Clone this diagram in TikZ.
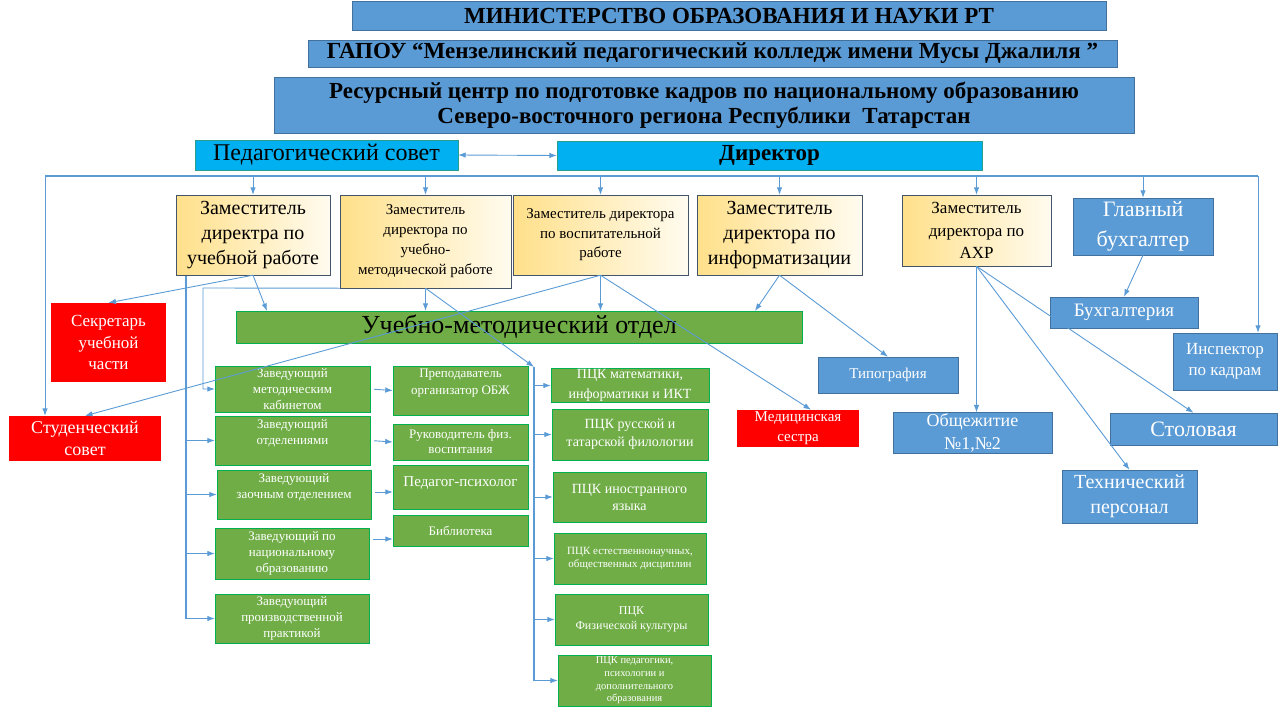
\documentclass[tikz,border=0pt]{standalone}
\usepackage{fontspec}
\setmainfont{Liberation Serif}
\usetikzlibrary{arrows.meta}
\newcommand{\fsz}[2]{\fontsize{#1}{#2}\selectfont}
\definecolor{hdrblue}{HTML}{5B9BD5}
\definecolor{hdrline}{HTML}{41719C}
\definecolor{sovcyan}{HTML}{00B0F0}
\definecolor{sovline}{HTML}{2A9D8F}
\definecolor{grnfill}{HTML}{70AD47}
\definecolor{grnline}{HTML}{00B050}
\definecolor{zamyel}{HTML}{FFE08A}
\definecolor{zamlight}{HTML}{FFFBEF}
\definecolor{zamline}{HTML}{44546A}
\definecolor{linkblue}{HTML}{5B9BD5}
\tikzset{
  box/.style={inner sep=1pt, align=center},
  hdr/.style={box, draw=hdrline, fill=hdrblue},
  sov/.style={box, draw=sovline, fill=sovcyan},
  zam/.style={box, draw=zamline, left color=zamyel, right color=zamlight},
  blu/.style={box, draw=hdrline, fill=hdrblue, text=white},
  grn/.style={box, draw=grnline, fill=grnfill, text=white},
  redbox/.style={box, fill=red, text=white},
  lift/.style={text depth=#1},
  link/.style={draw=linkblue, line width=0.9pt, ->},
  trunk/.style={draw=linkblue, line width=1.3pt},
  >={Latex[length=7.5pt,width=5.5pt]}
}
\begin{document}
\begin{tikzpicture}[x=1pt,y=-1pt]
\useasboundingbox (0,0) rectangle (1280,720);
% header
\node[hdr, minimum width=754, minimum height=29, font=\bfseries\fsz{23}{26}] (min) at (729,15.5) {МИНИСТЕРСТВО ОБРАЗОВАНИЯ И НАУКИ РТ};
\node[hdr, minimum width=809, minimum height=27, font=\bfseries\fsz{23}{26}] (gapou) at (712.5,53.5) {ГАПОУ “Мензелинский педагогический колледж имени Мусы Джалиля ”};
\node[hdr, minimum width=860, minimum height=56, font=\bfseries\fsz{23}{25}] (rc) at (704,105) {Ресурсный центр по подготовке кадров по национальному образованию\\ Северо-восточного региона Республики\ \ Татарстан};
\node[sov, minimum width=263, minimum height=30, font=\fsz{24}{26}] (ps) at (326.5,155) {Педагогический совет};
\node[sov, minimum width=425, minimum height=29, font=\bfseries\fsz{23}{26}] (dir) at (769.5,155.5) {Директор};
% deputies
\node[zam, minimum width=154, minimum height=80, font=\fsz{20}{25}] (zu) at (253,235) {Заместитель\\ директра по\\ учебной работе};
\node[zam, minimum width=171, minimum height=93, font=\fsz{15}{20}] (zumr) at (425.5,241.5) {Заместитель\\ директора по\\ учебно-\\ методической работе};
\node[zam, minimum width=175, minimum height=80, font=\fsz{15}{19.5}] (zv) at (600.5,235) {Заместитель директора\\ по воспитательной\\ работе};
\node[zam, minimum width=165, minimum height=80, font=\fsz{20}{25}] (zi) at (779.5,235) {Заместитель\\ директора по\\ информатизации};
\node[zam, minimum width=149, minimum height=71, font=\fsz{17}{22.5}] (zahr) at (976.5,230.5) {Заместитель\\ директора по\\ АХР};
\node[blu, minimum width=140, minimum height=57, font=\fsz{22}{30}] (gb) at (1143,226.5) {Главный\\ бухгалтер};
\node[blu, minimum width=148, minimum height=31, font=\fsz{19}{22}] (buh) at (1124,312.5) {Бухгалтерия};
\node[blu, minimum width=104, minimum height=57, font=\fsz{17}{21}] (insp) at (1225,361.5) {Инспектор\\ по кадрам};
% middle band
\node[redbox, minimum width=115, minimum height=79, font=\fsz{17}{21.5}] (sek) at (108.5,342.5) {Секретарь\\ учебной\\ части};
\node[box, draw=grnline, fill=grnfill, minimum width=566, minimum height=32, font=\fsz{26}{28}] (umo) at (519,327) {Учебно-методический отдел};
\node[redbox, minimum width=152, minimum height=45, font=\fsz{18}{22}] (stsov) at (85,438.5) {Студенческий\\ совет};
\node[blu, minimum width=140, minimum height=36, font=\fsz{15}{18}] (typ) at (888,375) {Типография};
\node[redbox, minimum width=122, minimum height=37, font=\fsz{15}{20}] (ms) at (798,428.5) {Медицинская\\ сестра};
\node[blu, minimum width=159, minimum height=40, font=\fsz{18}{23}] (obsh) at (972.5,433) {Общежитие\\ №1,№2};
\node[blu, minimum width=167, minimum height=32, font=\fsz{22}{24}] (stol) at (1193.5,429) {Столовая};
\node[blu, minimum width=135, minimum height=53, font=\fsz{20}{25}] (tech) at (1129.5,496.5) {Технический\\ персонал};
% heads of units
\node[grn, minimum width=155, minimum height=46, font=\fsz{13}{16}] (zmk) at (292.5,389) {Заведующий\\ методическим\\ кабинетом};
\node[grn, minimum width=155, minimum height=49, font=\fsz{13}{16}, lift=17pt] (zot) at (292.5,440.5) {Заведующий\\ отделениями};
\node[grn, minimum width=154, minimum height=49, font=\fsz{13}{16}, lift=17pt] (zzo) at (294,494.5) {Заведующий\\ заочным отделением};
\node[grn, minimum width=154, minimum height=51, font=\fsz{13}{16}] (znac) at (292,553.5) {Заведующий по\\ национальному\\ образованию};
\node[grn, minimum width=154, minimum height=49, font=\fsz{13}{16}] (zpr) at (292,618.5) {Заведующий\\ производственной\\ практикой};
\node[grn, minimum width=135, minimum height=49, font=\fsz{13}{17}, lift=17pt] (obzh) at (460.5,390.5) {Преподаватель\\ организатор ОБЖ};
\node[grn, minimum width=135, minimum height=36, font=\fsz{13}{15}] (fiz) at (460.5,442) {Руководитель физ.\\ воспитания};
\node[grn, minimum width=135, minimum height=44, font=\fsz{15}{17}, lift=10pt] (psy) at (460.5,487) {Педагог-психолог};
\node[grn, minimum width=135, minimum height=31, font=\fsz{13}{15}] (bib) at (460.5,530.5) {Библиотека};
% subject commissions
\node[grn, minimum width=158, minimum height=33, font=\fsz{14}{20}] (p1) at (630,385.5) {ПЦК математики,\\ информатики и ИКТ};
\node[grn, minimum width=156, minimum height=51, font=\fsz{14}{18}] (p2) at (630,434.5) {ПЦК русской и\\ татарской филологии};
\node[grn, minimum width=153, minimum height=50, font=\fsz{14}{17}] (p3) at (629.5,497) {ПЦК иностранного\\ языка};
\node[grn, minimum width=152, minimum height=51, font=\fsz{11}{13}] (p4) at (630,558.5) {ПЦК естественнонаучных,\\ общественных дисциплин};
\node[grn, minimum width=153, minimum height=51, font=\fsz{12}{15}] (p5) at (631.5,619.5) {ПЦК\\ Физической культуры};
\node[grn, minimum width=153, minimum height=51, font=\fsz{10.5}{12.7}] (p6) at (634.5,680.5) {ПЦК педагогики,\\ психологии и\\ дополнительного\\ образования};
% connectors
\coordinate (busL) at (45,176);
\coordinate (busR) at (1258,176);
\coordinate (umoA) at (267,311);
\coordinate (umoB) at (755,311);
\coordinate (lbTop) at (186,276);
\coordinate (umrL) at (203,288);
\coordinate (rbTop) at (534,367);
\draw[link, <->] (ps.east) -- (dir.west);
\draw[trunk] (busL) -- (busR);
\foreach \z in {zu,zumr,zv,zi,zahr,gb}
  \draw[link] (\z.north |- busL) -- (\z.north);
\draw[link] (busL) -- (busL |- stsov.north);
\draw[link] (busR) -- (busR |- insp.north);
\draw[link] (zu.south) -- (sek.north);
\draw[link] (zu.south) -- (umoA);
\draw[trunk] (lbTop) -- (lbTop |- zpr.west);
\foreach \z in {zot,zzo,znac,zpr}
  \draw[link] (lbTop |- \z.west) -- (\z.west);
\draw[link] (zumr.south west) -- (umrL) |- (zmk.west);
\draw[link] (zumr.south) -- (zumr.south |- umo.north);
\draw[link] (zumr.south) -- (rbTop);
\draw[trunk] (rbTop) -- (rbTop |- p6.west);
\foreach \p in {p1,p2,p3,p4,p5,p6}
  \draw[link] (rbTop |- \p.west) -- (\p.west);
\draw[link] (zv.south) -- (zv.south |- umo.north);
\draw[link] (zv.south) -- (stsov.north);
\draw[link] (zv.south) -- ([xshift=13pt]ms.north);
\draw[link] (zi.south) -- (umoB);
\draw[link] (zi.south) -- (typ.north);
\draw[link] (zahr.south) -- (zahr.south |- obsh.north);
\draw[link] (zahr.south) -- (tech.north);
\draw[link] (zahr.south) -- (stol.north);
\draw[link] (gb.south) -- (buh.north);
\draw[link, shorten <=4pt] (zmk.east) -- (obzh.west);
\draw[link, shorten <=4pt] (zot.east) -- (fiz.west);
\draw[link, shorten <=4pt] (zzo.east |- 0,492) -- (psy.west |- 0,492);
\draw[link, shorten <=4pt] (znac.east |- 0,539) -- (bib.west |- 0,539);
\end{tikzpicture}
\end{document}
